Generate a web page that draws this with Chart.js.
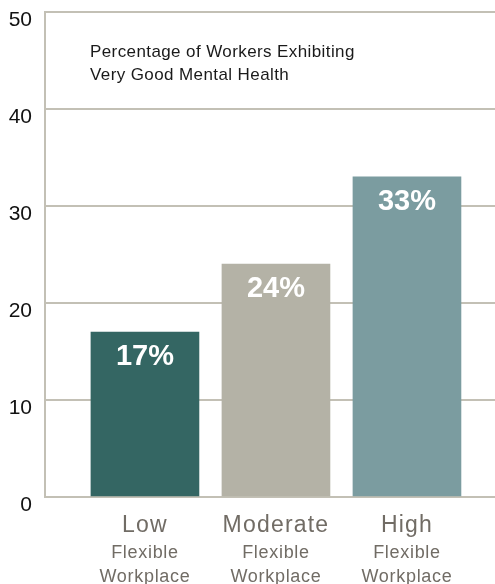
<!DOCTYPE html>
<html>
<head>
<meta charset="utf-8">
<script src="https://cdn.jsdelivr.net/npm/chart.js@4.4.1/dist/chart.umd.min.js"></script>
<style>
  html, body { margin: 0; padding: 0; background: #fff; }
  #wrap { width: 495px; height: 584px; }
</style>
</head>
<body>
<div id="wrap"><canvas id="chart" width="495" height="584"></canvas></div>
<script>
const categories = ["Low", "Moderate", "High"];
const categoryNote = ["Flexible", "Workplace"];
const shares = [17, 24, 33];
const yTicks = [0, 10, 20, 30, 40, 50];
const barColors = ["#346663", "#b4b2a6", "#7b9ca0"];
const titleLines = ["Percentage of Workers Exhibiting", "Very Good Mental Health"];

const gridColor = "#c3c0b5";
const baseFont = "'Liberation Sans', Arial, Helvetica, sans-serif";

// values written in white near the top of each bar
const valueLabels = {
    id: "valueLabels",
    afterDatasetsDraw(chart) {
        const ctx = chart.ctx;
        const meta = chart.getDatasetMeta(0);
        ctx.save();
        ctx.fillStyle = "#ffffff";
        ctx.font = "bold 29px " + baseFont;
        ctx.textAlign = "center";
        ctx.textBaseline = "middle";
        meta.data.forEach((bar, i) => {
            ctx.fillText(shares[i] + "%", bar.x, bar.y + 25);
        });
        ctx.restore();
    },
};

// category names under the axis plus the small two-line note
const categoryLabels = {
    id: "categoryLabels",
    afterDraw(chart) {
        const ctx = chart.ctx;
        const x = chart.scales.x;
        const bottom = chart.chartArea.bottom;
        ctx.save();
        ctx.fillStyle = "#716c65";
        ctx.textAlign = "center";
        ctx.textBaseline = "middle";
        categories.forEach((name, i) => {
            const cx = x.getPixelForValue(i);
            ctx.font = "23px " + baseFont;
            ctx.letterSpacing = "1.2px";
            ctx.fillText(name, cx, bottom + 29);
            ctx.font = "18px " + baseFont;
            ctx.letterSpacing = "0.7px";
            categoryNote.forEach((line, j) => {
                ctx.fillText(line, cx, bottom + 56 + j * 24);
            });
        });
        ctx.restore();
    },
};

// caption inside the plot, upper left
const caption = {
    id: "caption",
    afterDraw(chart) {
        const ctx = chart.ctx;
        ctx.save();
        ctx.fillStyle = "#1a1a1a";
        ctx.font = "17px " + baseFont;
        ctx.letterSpacing = "0.4px";
        ctx.textAlign = "left";
        ctx.textBaseline = "alphabetic";
        titleLines.forEach((line, i) => {
            ctx.fillText(line, 90, 57 + i * 23);
        });
        ctx.restore();
    },
};

new Chart(document.getElementById("chart"), {
    type: "bar",
    data: {
        datasets: [{
            data: shares.map((v, i) => ({ x: i, y: v })),
            backgroundColor: barColors,
            borderWidth: 0,
            barThickness: 108,
        }],
    },
    options: {
        responsive: false,
        animation: false,
        events: [],
        layout: { padding: { top: 12, bottom: 87, left: 0, right: 0 } },
        plugins: {
            legend: { display: false },
            tooltip: { enabled: false },
        },
        scales: {
            x: {
                type: "linear",
                display: false,
                offset: false,
                min: -0.763,
                max: 2.672,
            },
            y: {
                min: 0,
                max: 50,
                afterFit(scale) {
                    scale.width = 45;
                    scale.paddingTop = 0;
                    scale.paddingBottom = 0;
                },
                afterBuildTicks(scale) {
                    scale.ticks = yTicks.map(v => ({ value: v }));
                },
                grid: {
                    color: gridColor,
                    lineWidth: 2,
                    drawTicks: false,
                },
                border: { display: true, color: gridColor, width: 2 },
                ticks: {
                    color: "#111",
                    padding: 13,
                    labelOffset: 8,
                    font: { family: baseFont, size: 21 },
                },
            },
        },
    },
    plugins: [valueLabels, categoryLabels, caption],
});
</script>
</body>
</html>
